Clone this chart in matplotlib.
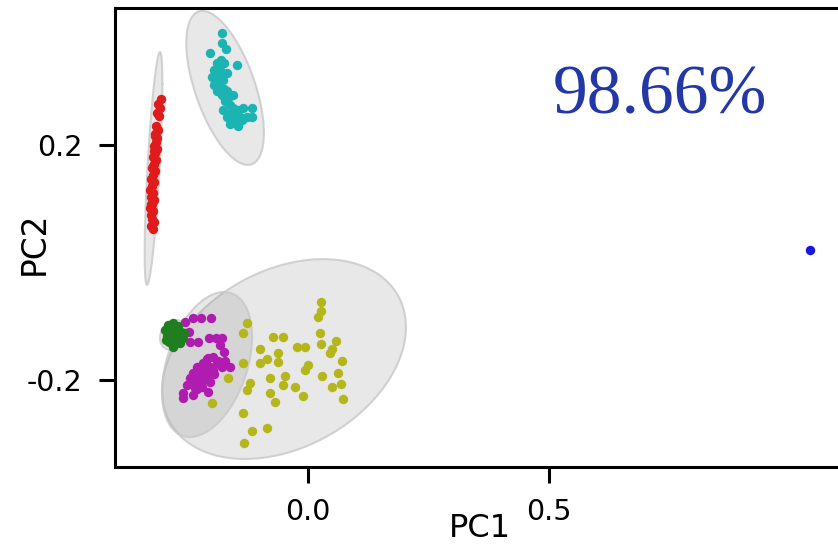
import numpy as np
import matplotlib
matplotlib.use("Agg")
import matplotlib.pyplot as plt

plt.rcParams['axes.unicode_minus'] = False

# ---------------- data (PC1, PC2) ----------------
red_x = [-0.305, -0.311, -0.307, -0.313, -0.309, -0.315, -0.311, -0.317, -0.313, -0.315, -0.320,
         -0.313, -0.317, -0.322, -0.315, -0.320, -0.324, -0.317, -0.322, -0.326, -0.320, -0.324,
         -0.328, -0.322, -0.326, -0.320, -0.324, -0.328, -0.322, -0.326, -0.324, -0.320, -0.326,
         -0.322, -0.318, -0.319, -0.321, -0.323, -0.325]
red_y = [0.278, 0.270, 0.263, 0.2545, 0.249, 0.232, 0.2255, 0.219, 0.212, 0.205, 0.198,
         0.193, 0.186, 0.180, 0.174, 0.168, 0.161, 0.156, 0.149, 0.142, 0.137, 0.130,
         0.123, 0.118, 0.1115, 0.106, 0.0996, 0.093, 0.0877, 0.081, 0.074, 0.069, 0.062,
         0.057, 0.215, 0.190, 0.165, 0.140, 0.100]

cyan_x = [-0.179, -0.179, -0.170, -0.203, -0.181, -0.189, -0.174, -0.148, -0.196, -0.183,
          -0.169, -0.200, -0.186, -0.176, -0.196, -0.183, -0.189, -0.179, -0.169, -0.155,
          -0.172, -0.162, -0.176, -0.155, -0.145, -0.134, -0.117, -0.169, -0.155, -0.141,
          -0.127, -0.117, -0.151, -0.1375, -0.145, -0.162, -0.185, -0.178, -0.192, -0.174,
          -0.166, -0.160]
cyan_y = [0.391, 0.374, 0.363, 0.356, 0.345, 0.339, 0.340, 0.336, 0.328, 0.328,
          0.322, 0.316, 0.3135, 0.311, 0.302, 0.299, 0.291, 0.285, 0.291, 0.285,
          0.274, 0.268, 0.2596, 0.2625, 0.2596, 0.2625, 0.2625, 0.248, 0.248, 0.248,
          0.248, 0.248, 0.2426, 0.2426, 0.232, 0.236, 0.333, 0.318, 0.307, 0.296,
          0.280, 0.255]

green_x = [-0.2905, -0.280, -0.2697, -0.2967, -0.286, -0.274, -0.2635, -0.2925, -0.282,
           -0.2697, -0.2593, -0.288, -0.276, -0.2656, -0.280, -0.2946, -0.257, -0.278, -0.284]
green_y = [-0.1064, -0.103, -0.108, -0.115, -0.1166, -0.115, -0.118, -0.125, -0.127,
           -0.127, -0.1285, -0.1353, -0.137, -0.137, -0.1438, -0.132, -0.120, -0.121, -0.131]

magenta_x = [-0.255, -0.238, -0.2226, -0.202, -0.246, -0.245, -0.2276, -0.2048, -0.191,
             -0.179, -0.1826, -0.174, -0.1965, -0.207, -0.217, -0.231, -0.189, -0.179,
             -0.162, -0.238, -0.224, -0.210, -0.1965, -0.245, -0.231, -0.217, -0.203,
             -0.2517, -0.2344, -0.2205, -0.2587, -0.238, -0.207, -0.2587, -0.186, -0.172,
             -0.203, -0.215, -0.225, -0.240, -0.210, -0.195, -0.230]
magenta_y = [-0.1008, -0.094, -0.094, -0.094, -0.1178, -0.1348, -0.1348, -0.129, -0.128,
             -0.129, -0.1404, -0.152, -0.160, -0.163, -0.1716, -0.1774, -0.1716, -0.1774,
             -0.1774, -0.1886, -0.1859, -0.1915, -0.183, -0.197, -0.200, -0.200, -0.203,
             -0.2085, -0.214, -0.2114, -0.2226, -0.2255, -0.220, -0.231, -0.1681, -0.1681,
             -0.1774, -0.185, -0.195, -0.205, -0.165, -0.190, -0.215]

olive_x = [0.027, 0.027, 0.020, -0.127, -0.134, 0.025, 0.058, -0.0732, -0.0525, 0.0263,
           -0.0234, -0.0062, 0.0492, 0.0456, -0.0996, -0.0616, -0.0857, -0.0996, -0.0616,
           0.0699, 0.0006, -0.0062, -0.1355, -0.0477, 0.0284, 0.0629, -0.0788, -0.0525,
           -0.027, 0.0678, 0.0492, -0.1203, -0.1272, -0.1654, -0.0788, -0.0685, -0.011,
           0.0732, -0.1998, -0.1355, -0.1168, -0.0857, -0.1322]
olive_y = [-0.0667, -0.0826, -0.0923, -0.1035, -0.1205, -0.1205, -0.1331, -0.1263, -0.1263,
           -0.1387, -0.1443, -0.1433, -0.1477, -0.1546, -0.1477, -0.1546, -0.1648, -0.1716,
           -0.1689, -0.1677, -0.1745, -0.183, -0.1706, -0.1932, -0.1932, -0.1886, -0.1971,
           -0.2085, -0.2114, -0.2073, -0.2124, -0.2046, -0.217, -0.1971, -0.2216, -0.2369,
           -0.2272, -0.2329, -0.2397, -0.2567, -0.2863, -0.2822, -0.3067]

blue_x = [1.041]
blue_y = [0.021]

# confidence ellipses: centre x, centre y, half extent x, half extent y, correlation
ell_cx = [-0.0498, -0.2095, -0.279, -0.3205, -0.172]
ell_cy = [-0.1643, -0.1736, -0.1234, 0.160, 0.297]
ell_ex = [0.253, 0.0934, 0.028, 0.0184, 0.0805]
ell_ey = [0.170, 0.1234, 0.0255, 0.198, 0.131]
ell_rho = [0.32, 0.38, 0.2, 0.73, -0.585]

x_ticks = [0.0, 0.5]
y_ticks = [-0.2, 0.2]
annotation = "98.66%"

# ---------------- figure ----------------
W, H = 838, 551
fig = plt.figure(figsize=(W / 100, H / 100), dpi=100)
ax = fig.add_axes([115 / W, 84 / H, 730 / W, 459 / H])
ax.set_xlim(-0.4004, 1.114)
ax.set_ylim(-0.348, 0.433)

t = np.linspace(0, 2 * np.pi, 300)
for cx, cy, ex, ey, r in zip(ell_cx, ell_cy, ell_ex, ell_ey, ell_rho):
    ex_ = cx + ex * np.cos(t)
    ey_ = cy + ey * (r * np.cos(t) + np.sqrt(1 - r * r) * np.sin(t))
    ax.fill(ex_, ey_, facecolor='grey', alpha=0.18, edgecolor='none', zorder=1)
    ax.plot(ex_, ey_, color='#c8c8c8', lw=1.5, alpha=0.8, zorder=1)

kw = dict(s=46, linewidths=0, zorder=3)
ax.scatter(red_x, red_y, color='#e01b1b', **kw)
ax.scatter(cyan_x, cyan_y, color='#1cb3b3', **kw)
ax.scatter(olive_x, olive_y, color='#b5b51c', **kw)
ax.scatter(magenta_x, magenta_y, color='#b01cb0', **kw)
ax.scatter(green_x, green_y, color='#1f7f1f', **kw)
ax.scatter(blue_x, blue_y, color='#1616e6', **kw)

ax.set_xticks(x_ticks)
ax.set_xticklabels([f"{v:.1f}" for v in x_ticks])
ax.set_yticks(y_ticks)
ax.set_yticklabels([f"{v:.1f}" for v in y_ticks])
for s in ax.spines.values():
    s.set_linewidth(2.2)
ax.tick_params(axis='both', length=11.5, width=2.2, labelsize=20.5)
ax.tick_params(axis='x', pad=11)
ax.tick_params(axis='y', pad=12)

ax.set_xlabel("PC1", fontsize=23)
ax.set_ylabel("PC2", fontsize=23.5)
ax.xaxis.set_label_coords(0.5, -0.100)
ax.yaxis.set_label_coords(-0.0877, 0.488)

fig.text(553 / W, (H - 113) / H, annotation, family='Liberation Serif',
         fontsize=50, color='#2338a6', ha='left', va='baseline')

fig.savefig("out.png", dpi=100)
